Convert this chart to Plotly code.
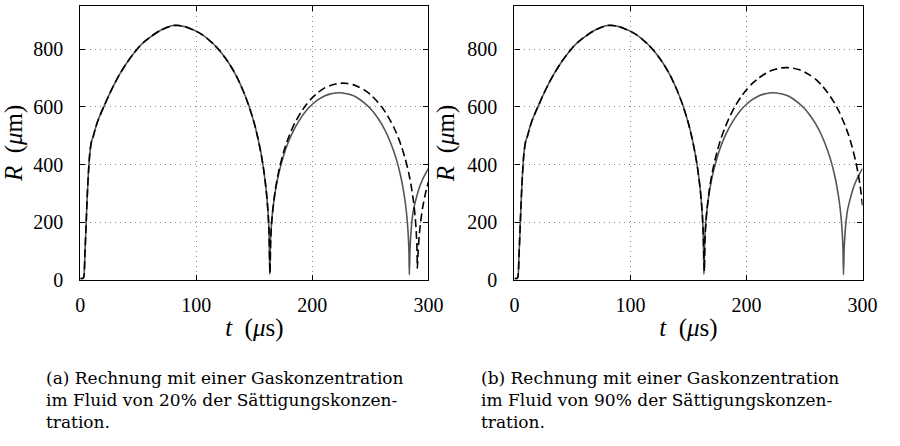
import plotly.graph_objects as go

# ---------------- data ----------------
# first oscillation cycle, common to all curves (t in microseconds, R in micrometres)
t_cycle1 = [0, 2, 3, 4, 5, 6, 7, 8, 9, 10, 11, 13, 15, 18, 21, 25, 30, 35, 40, 45,
            50, 55, 60, 65, 70, 75, 80, 85, 90, 95, 100, 105, 110, 115, 120, 125,
            130, 135, 140, 145, 150, 153, 156, 158, 160, 161, 162, 162.7]
R_cycle1 = [5, 5, 10, 90, 190, 290, 370, 430, 465, 485, 495, 525, 550, 580, 607, 643,
            684, 720, 752, 780, 805, 825, 841, 855, 867, 876, 882, 882, 878, 871,
            862, 850, 835, 817, 795, 769, 739, 703, 659, 607, 542, 493, 433, 383,
            319, 277, 222, 162]

# solid curve (reference computation), later part
t_solid = [163.3, 164, 165, 166, 168, 170, 172, 175, 178, 181, 185, 190, 195, 200,
           205, 210, 215, 220, 223, 226, 230, 235, 240, 245, 250, 255, 260, 265,
           270, 273, 276, 278, 280, 281.5, 282.5, 283.2, 283.6, 284.2, 285, 286,
           287, 289, 292, 295, 298, 300]
R_solid = [20, 144, 205, 246, 305, 349, 384, 428, 464, 494, 527, 561, 588, 609,
           625, 637, 644, 648, 649, 648, 645, 639, 628, 613, 594, 569, 538, 499,
           448, 410, 362, 322, 271, 218, 165, 103, 18, 110, 165, 210, 240, 275,
           318, 348, 372, 386]

# dashed curve, panel (a): gas concentration 20 %
t_dash_a = [163.5, 164.2, 165, 166, 168, 170, 172, 175, 178, 181, 185, 190, 195,
            200, 205, 210, 215, 220, 226, 230, 235, 240, 245, 250, 255, 260, 265,
            270, 274, 277, 280, 283, 285, 287, 288.5, 289.5, 290.2, 290.5, 291.2,
            292, 293.3, 295, 297.5, 300]
R_dash_a = [22, 149, 201, 246, 310, 356, 394, 440, 478, 509, 545, 580, 609, 632,
            650, 664, 673, 679, 682, 681, 677, 669, 658, 643, 623, 599, 568, 531,
            494, 460, 421, 372, 330, 278, 223, 169, 105, 41, 100, 150, 200, 250,
            300, 340]

# dashed curve, panel (b): gas concentration 90 %
t_dash_b = [163.7, 164.3, 165, 166, 168, 170, 172, 175, 178, 181, 185, 190, 195,
            200, 205, 210, 215, 220, 225, 230, 235, 240, 245, 250, 255, 260, 265,
            270, 275, 280, 285, 288, 291, 294, 296, 298, 300]
R_dash_b = [30, 143, 195, 244, 312, 362, 401, 450, 490, 523, 561, 601, 633, 659,
            681, 698, 712, 723, 730, 735, 736, 734, 729, 721, 709, 694, 674, 649,
            619, 582, 535, 502, 462, 413, 373, 325, 258]

x_ticks = [0, 100, 200, 300]
y_ticks = [0, 200, 400, 600, 800]
x_title = "<i>t</i>\u2002(<i>μ</i>s)"
y_title = "<i>R</i>\u2002(<i>μ</i>m)"
captions = {
    "a": ["(a) Rechnung mit einer Gaskonzentration",
          "im Fluid von 20% der Sättigungskonzen-",
          "tration."],
    "b": ["(b) Rechnung mit einer Gaskonzentration",
          "im Fluid von 90% der Sättigungskonzen-",
          "tration."],
}

# ---------------- figure ----------------
W, H = 900, 446
SOLID_COLOR = "#555555"
DASH_COLOR = "#000000"
SERIF = "Liberation Serif, Times New Roman, serif"
TICK_FONT = dict(family=SERIF, size=20, color="black")
TITLE_FONT = dict(family=SERIF, size=25, color="black")

fig = go.Figure()

panels = [
    ("x", "y", t_dash_a, R_dash_a),
    ("x2", "y2", t_dash_b, R_dash_b),
]
for xa, ya, td, Rd in panels:
    fig.add_trace(go.Scatter(
        x=t_cycle1 + t_solid, y=R_cycle1 + R_solid, mode="lines",
        line=dict(color=SOLID_COLOR, width=1.6, shape="spline", smoothing=0.6),
        xaxis=xa, yaxis=ya, showlegend=False, hoverinfo="skip"))
    fig.add_trace(go.Scatter(
        x=t_cycle1 + td, y=R_cycle1 + Rd, mode="lines",
        line=dict(color=DASH_COLOR, width=1.6, dash="8px,4px",
                  shape="spline", smoothing=0.6),
        xaxis=xa, yaxis=ya, showlegend=False, hoverinfo="skip"))

GRID = dict(showgrid=True, gridcolor="#8a8a8a", griddash="1px,4px", gridwidth=1.2)

def xaxis_style(domain, anchor):
    return dict(domain=domain, anchor=anchor, range=[0, 300],
                tickvals=x_ticks, ticktext=[str(v) for v in x_ticks],
                ticks="inside", ticklen=5, tickcolor="black", tickwidth=1,
                showline=True, linecolor="black", linewidth=1.3, mirror="ticks",
                zeroline=False, tickfont=TICK_FONT, ticklabelstandoff=7,
                title=dict(text=x_title, font=TITLE_FONT, standoff=3), **GRID)

def yaxis_style(domain, anchor):
    return dict(domain=domain, anchor=anchor, range=[0, 950],
                tickvals=y_ticks, ticktext=[str(v) for v in y_ticks],
                ticks="inside", ticklen=5, tickcolor="black", tickwidth=1,
                showline=True, linecolor="black", linewidth=1.3, mirror="ticks",
                zeroline=False, tickfont=TICK_FONT, ticklabelstandoff=12,
                title=dict(text=y_title, font=TITLE_FONT, standoff=5), **GRID)

ydom = [1 - 287 / H, 1 - 6 / H]
fig.update_layout(
    width=W, height=H,
    margin=dict(l=0, r=0, t=0, b=0),
    paper_bgcolor="white", plot_bgcolor="white",
    xaxis=xaxis_style([77 / W, 433 / W], "y"),
    yaxis=yaxis_style(ydom, "x"),
    xaxis2=xaxis_style([521 / W, 877 / W], "y2"),
    yaxis2=yaxis_style(ydom, "x2"),
)

CAP_FONT = dict(family="DejaVu Serif, serif", size=17, color="black")
for key, x0 in (("a", 40), ("b", 485)):
    fig.add_annotation(text="<br>".join(captions[key]), xref="paper", yref="paper",
                       x=x0 / W, y=1 - 410 / H, xanchor="left", yanchor="middle",
                       align="left", showarrow=False, font=CAP_FONT)

fig.write_html("out.html")
